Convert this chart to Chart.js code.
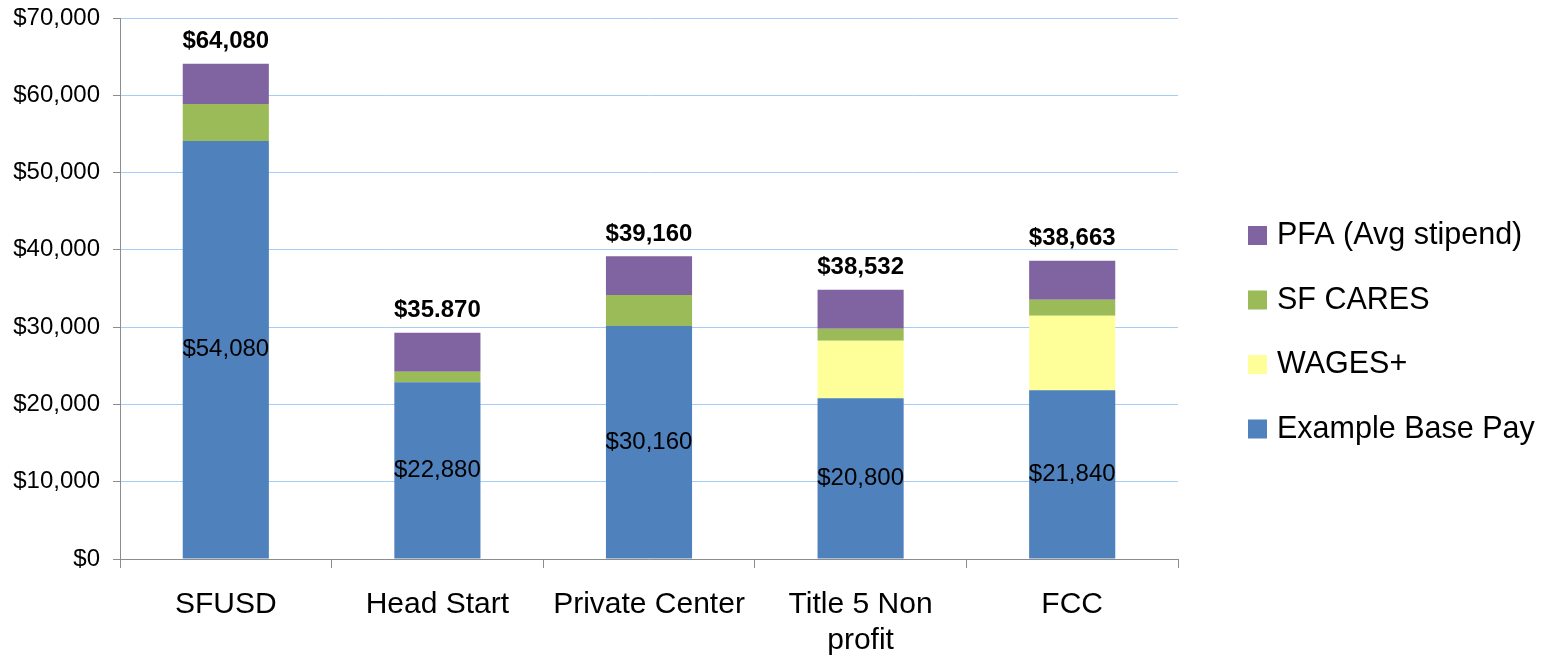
<!DOCTYPE html>
<html>
<head>
<meta charset="utf-8">
<script src="https://cdn.jsdelivr.net/npm/chart.js@4"></script>
<style>
  body { margin: 0; background: #fff; }
</style>
</head>
<body>
<canvas id="payChart" width="1554" height="659"></canvas>
<script>
const categories = ['SFUSD', 'Head Start', 'Private Center', ['Title 5 Non', 'profit'], 'FCC'];
const basePay = [54080, 22880, 30160, 20800, 21840];
const wagesPlus = [0, 0, 0, 7440, 9640];
const sfCares = [4800, 1350, 4000, 1550, 2070];
const pfaStipend = [5200, 5050, 5000, 5050, 5040];
const baseLabels = ['$54,080', '$22,880', '$30,160', '$20,800', '$21,840'];
const totalLabels = ['$64,080', '$35.870', '$39,160', '$38,532', '$38,663'];
const yTicks = [0, 10000, 20000, 30000, 40000, 50000, 60000, 70000];

Chart.defaults.font.family = 'Arial, "Liberation Sans", sans-serif';
Chart.defaults.color = '#000';

const axisGrey = '#8c8c8c';

// labels inside the base segment and totals over each stack
const barLabels = {
  id: 'barLabels',
  afterDatasetsDraw(chart) {
    const ctx = chart.ctx;
    const baseMeta = chart.getDatasetMeta(0);
    const topMeta = chart.getDatasetMeta(chart.data.datasets.length - 1);
    ctx.save();
    ctx.fillStyle = '#000';
    ctx.textAlign = 'center';
    ctx.textBaseline = 'middle';
    ctx.font = '24px Arial, "Liberation Sans", sans-serif';
    baseMeta.data.forEach((bar, i) => {
      ctx.fillText(baseLabels[i], bar.x, (bar.y + bar.base) / 2);
    });
    ctx.font = 'bold 24px Arial, "Liberation Sans", sans-serif';
    topMeta.data.forEach((bar, i) => {
      ctx.fillText(totalLabels[i], bar.x, bar.y - 22);
    });
    ctx.restore();
  }
};

// legend on the right, last series first
const sideLegend = {
  id: 'sideLegend',
  afterDraw(chart) {
    const ctx = chart.ctx;
    const sets = [...chart.data.datasets].reverse();
    ctx.save();
    ctx.font = '30.5px Arial, "Liberation Sans", sans-serif';
    ctx.textBaseline = 'middle';
    ctx.textAlign = 'left';
    sets.forEach((ds, i) => {
      const cy = 235 + i * 64.5;
      ctx.fillStyle = ds.backgroundColor;
      ctx.fillRect(1248, cy - 9, 19, 19);
      ctx.fillStyle = '#000';
      ctx.fillText(ds.label, 1277, cy + 1);
    });
    ctx.restore();
  }
};

const ctx = document.getElementById('payChart').getContext('2d');
new Chart(ctx, {
  type: 'bar',
  data: {
    labels: categories,
    datasets: [
      { label: 'Example Base Pay', data: basePay, backgroundColor: '#4f81bd' },
      { label: 'WAGES+', data: wagesPlus, backgroundColor: '#ffff99' },
      { label: 'SF CARES', data: sfCares, backgroundColor: '#9bbb59' },
      { label: 'PFA (Avg stipend)', data: pfaStipend, backgroundColor: '#8064a2' }
    ]
  },
  options: {
    responsive: false,
    animation: false,
    layout: { padding: { top: 18, right: 376, bottom: 0, left: 0 } },
    datasets: {
      bar: { barPercentage: 0.407, categoryPercentage: 1, borderWidth: 0 }
    },
    plugins: {
      legend: { display: false },
      tooltip: { enabled: false }
    },
    scales: {
      x: {
        stacked: true,
        afterFit: (scale) => { scale.height = 100; },
        border: { color: axisGrey, width: 1 },
        grid: {
          offset: true,
          drawOnChartArea: false,
          color: axisGrey,
          tickLength: 9
        },
        ticks: {
          padding: 19,
          maxRotation: 0,
          font: { size: 30, lineHeight: 1.2 }
        }
      },
      y: {
        stacked: true,
        min: 0,
        max: 70000,
        afterFit: (scale) => {
          scale.width = 120;
          scale.paddingTop = 0;
          scale.paddingBottom = 0;
        },
        afterBuildTicks: (scale) => { scale.ticks = yTicks.map(v => ({ value: v })); },
        border: { color: axisGrey, width: 1 },
        grid: {
          color: '#a6cdf5',
          tickColor: axisGrey,
          tickLength: 7
        },
        ticks: {
          padding: 13,
          font: { size: 24 },
          callback: (v) => '$' + Number(v).toLocaleString('en-US')
        }
      }
    }
  },
  plugins: [barLabels, sideLegend]
});
</script>
</body>
</html>
